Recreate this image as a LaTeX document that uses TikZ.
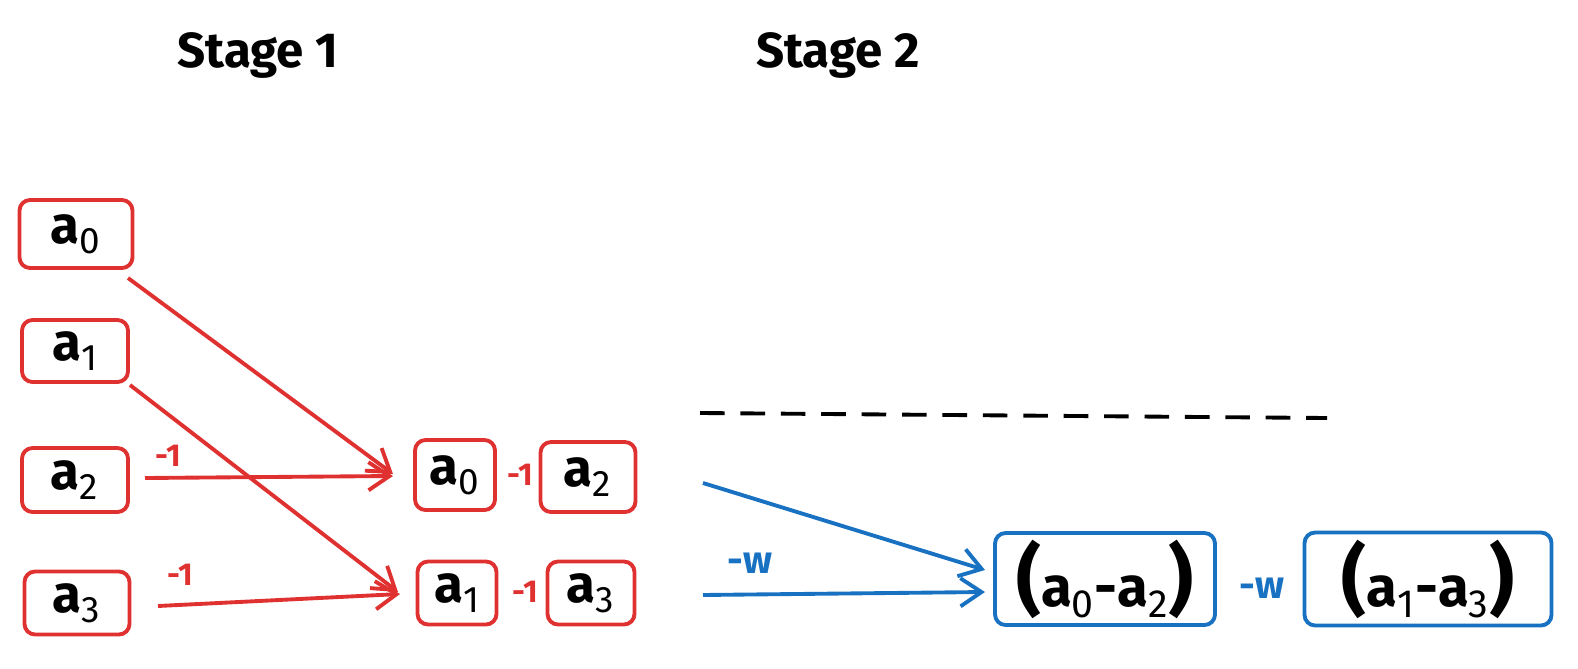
\documentclass[tikz,border=0pt]{standalone}
\usepackage{fontspec}
\setmainfont{Fira Sans}
\usetikzlibrary{arrows.meta}
\definecolor{rd}{RGB}{224,49,49}
\definecolor{bl}{RGB}{25,113,194}
\newcommand{\av}[1]{\textbf{a}\textsubscript{\fontseries{m}\selectfont #1}}
\begin{document}
\begin{tikzpicture}[x=0.02cm,y=-0.02cm,
 rb/.style={draw=rd,line width=2.2pt,rounded corners=6pt,inner sep=0pt,font=\fontsize{30}{32}\selectfont\bfseries},
 bb/.style={draw=bl,line width=2.2pt,rounded corners=6pt,inner sep=0pt,font=\fontsize{32}{34}\selectfont\bfseries},
 ra/.style={draw=rd,line width=2.2pt,-{Straight Barb[length=12pt,width=16pt]}},
 ba/.style={draw=bl,line width=2.2pt,-{Straight Barb[length=12pt,width=16pt]}},
 rl/.style={text=rd,font=\fontsize{18}{20}\selectfont\bfseries},
 bls/.style={text=bl,font=\fontsize{22}{24}\selectfont\bfseries},
 st/.style={font=\fontsize{28}{32}\selectfont\bfseries}]
\useasboundingbox (0,0) rectangle (1578,669);
\node[st] (s1) at (258,55) {Stage 1};
\node[st] (s2) at (838,55) {Stage 2};
\node[rb,minimum width=2.26cm,minimum height=1.36cm] (a0) at (76,234) {\av{0}};
\node[rb,minimum width=2.12cm,minimum height=1.24cm] (a1) at (75,351) {\av{1}};
\node[rb,minimum width=2.12cm,minimum height=1.28cm] (a2) at (75,480) {\av{2}};
\node[rb,minimum width=2.1cm,minimum height=1.26cm] (a3) at (77,603) {\av{3}};
\node[rb,minimum width=1.6cm,minimum height=1.4cm] (m0) at (455,475) {\av{0}};
\node[rl] (l1) at (520,475) {-1};
\node[rb,minimum width=1.9cm,minimum height=1.4cm] (m2) at (588,477) {\av{2}};
\node[rb,minimum width=1.58cm,minimum height=1.26cm] (m1) at (457,593) {\av{1}};
\node[rl] (l2) at (525,592) {-1};
\node[rb,minimum width=1.74cm,minimum height=1.26cm] (m3) at (591,593) {\av{3}};
\coordinate (e0) at (128,278); \coordinate (t0) at (393,474);
\coordinate (e1) at (130,385); \coordinate (t1) at (398,592);
\coordinate (e2) at (145,478); \coordinate (t2) at (393,476);
\coordinate (e3) at (158,606); \coordinate (t3) at (400,594);
\draw[ra] (e0) -- (t0);
\draw[ra] (e1) -- (t1);
\draw[ra] (e2) -- (t2);
\draw[ra] (e3) -- (t3);
\node[rl] (l3) at (168,456) {-1};
\node[rl] (l4) at (180,575) {-1};
\coordinate (d1) at (700,413); \coordinate (d2) at (1327,418);
\draw[line width=2.2pt,dash pattern=on 14pt off 9pt] (d1) -- (d2);
\node[bb,minimum width=4.4cm,minimum height=1.84cm] (b1) at (1105,579) {{\fontsize{44}{44}\selectfont(}\av{0}-\av{2}{\fontsize{44}{44}\selectfont)}};
\node[bls] (wl) at (1262,588) {-w};
\node[bb,minimum width=4.94cm,minimum height=1.86cm] (b2) at (1428,579) {{\fontsize{44}{44}\selectfont(}\av{1}-\av{3}{\fontsize{44}{44}\selectfont)}};
\coordinate (f1) at (703,483); \coordinate (g1) at (985,570);
\coordinate (f2) at (703,595); \coordinate (g2) at (985,592);
\draw[ba] (f1) -- (g1);
\draw[ba] (f2) -- (g2);
\node[bls] (wl2) at (750,563) {-w};
\end{tikzpicture}
\end{document}
